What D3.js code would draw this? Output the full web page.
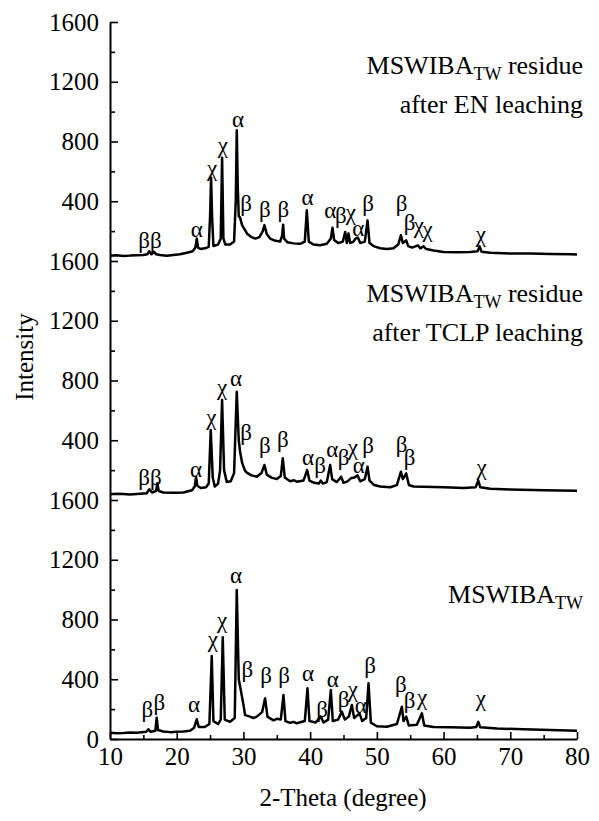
<!DOCTYPE html>
<html>
<head>
<meta charset="utf-8">
<script src="https://cdn.jsdelivr.net/npm/d3@7"></script>
<style>
  body { margin: 0; background: #fff; }
  svg text { font-family: "Liberation Serif", "Times New Roman", serif; fill: #000; }
</style>
</head>
<body>
<div id="chart"></div>
<script>
// XRD patterns, [2-theta, intensity]
var rawBA = [[10,42],[11,38],[12,40],[13,44],[14,42],[15.4,48],[15.75,65],[16.1,48],[16.8,55],[17.0,143],[17.2,60],[18,50],[19,46],[20,49],[21,50],[22,55],[22.6,75],[23.0,132],[23.3,80],[24.2,80],[24.9,100],[25.25,556],[25.5,120],[26.2,100],[26.6,130],[26.9,681],[27.2,130],[28.0,115],[28.7,140],[29.0,997],[29.3,400],[29.6,328],[30.0,230],[30.25,160],[31,150],[31.5,140],[32,150],[32.8,180],[33.25,272],[33.6,150],[34.5,125],[35.0,135],[35.6,130],[36.0,294],[36.3,120],[37,108],[37.5,115],[38,105],[39.2,120],[39.6,339],[39.9,120],[40.8,110],[41.6,150],[42.0,110],[42.7,130],[43.1,328],[43.4,120],[44.2,130],[44.75,183],[45.2,130],[45.8,150],[46.25,228],[46.6,140],[47.4,172],[47.8,120],[48.4,140],[48.75,373],[49.1,110],[50,85],[51.5,82],[53,100],[53.75,216],[54.0,120],[54.4,150],[54.8,90],[56,95],[56.75,172],[57.1,90],[58.5,80],[61,78],[64,75],[64.9,80],[65.2,115],[65.5,78],[68,70],[72,65],[76,60],[80,55]];

var tclpBA = [[10,38],[11,42],[12,40],[13,37],[14,40],[15.5,45],[15.9,72],[16.3,50],[16.9,60],[17.1,112],[17.3,60],[18,50],[19.5,48],[21,50],[22.3,65],[22.7,90],[22.9,156],[23.1,95],[23.6,80],[24.4,85],[24.8,110],[25.1,468],[25.4,150],[25.7,90],[26.2,110],[26.5,200],[26.8,669],[27.1,200],[27.5,120],[28.1,125],[28.6,180],[29.0,725],[29.3,400],[29.5,323],[29.8,250],[30.2,200],[30.5,183],[31.2,165],[32,156],[32.7,180],[33.15,234],[33.5,170],[34.2,150],[35,140],[35.6,160],[35.9,279],[36.2,150],[37,125],[37.6,132],[38,122],[39,130],[39.55,200],[39.9,130],[40.6,115],[41.3,110],[41.6,130],[41.9,110],[42.5,120],[43.0,234],[43.3,140],[44.0,120],[44.65,156],[45.0,115],[45.6,125],[46.1,145],[46.6,150],[47.1,165],[47.5,125],[48.2,140],[48.6,223],[48.9,130],[49.6,100],[50.5,90],[52,85],[53,100],[53.6,189],[53.9,140],[54.4,178],[54.8,100],[55.5,90],[57,88],[60,85],[63,80],[64.8,85],[65.2,130],[65.5,85],[67,75],[70,70],[75,65],[80,62]];

var enBA = [[10,35],[11,38],[12,33],[13,36],[14,38],[15,40],[15.6,45],[15.9,65],[16.2,45],[16.6,62],[16.9,45],[17.5,40],[18.5,35],[19.5,40],[20.5,45],[21.5,55],[22.4,65],[22.8,90],[23.0,150],[23.2,90],[23.6,80],[24.2,85],[24.8,95],[25.0,300],[25.15,558],[25.3,300],[25.5,100],[26.2,110],[26.6,150],[26.8,692],[27.0,150],[27.3,110],[28.0,110],[28.6,130],[28.85,400],[29.0,875],[29.15,500],[29.3,300],[29.5,290],[29.8,240],[30.2,210],[30.6,180],[31.2,160],[31.8,150],[32.4,160],[32.9,200],[33.15,240],[33.5,180],[34.0,150],[34.8,135],[35.5,130],[35.8,170],[35.95,243],[36.1,150],[36.6,125],[37.5,118],[38.5,115],[39.2,130],[39.5,340],[39.8,130],[40.5,110],[41.5,105],[42.5,115],[43.1,150],[43.35,223],[43.6,140],[44.2,120],[44.9,130],[45.25,194],[45.5,120],[45.75,185],[46.0,120],[46.5,130],[46.8,150],[47.15,157],[47.5,120],[48.2,130],[48.6,272],[48.9,120],[49.5,100],[50.5,85],[51.5,80],[52.5,85],[53.2,110],[53.6,172],[53.9,120],[54.4,138],[54.7,100],[55.3,90],[56.15,105],[56.5,85],[57.0,98],[57.4,80],[58.5,70],[60,60],[62,58],[64,60],[65.1,65],[65.4,98],[65.7,62],[67,55],[70,50],[73,50],[76,47],[79,45],[80,43]];

// phase labels, [2-theta, intensity of text baseline, letter]
var rawMarks = [[15.6,150,"β"],[17.4,195,"β"],[22.6,183,"α"],[25.4,617,"χ"],[26.8,740,"χ"],[28.9,1045,"α"],[30.6,417,"β"],[33.4,372,"β"],[36.1,372,"β"],[39.7,385,"α"],[41.8,150,"β"],[43.4,350,"α"],[45.0,217,"β"],[46.4,280,"χ"],[47.6,175,"α"],[49.0,439,"β"],[53.6,317,"β"],[54.9,205,"β"],[56.8,228,"χ"],[65.6,220,"χ"]];

var tclpMarks = [[16.0,100,"ββ"],[22.9,156,"α"],[25.2,502,"χ"],[26.8,703,"χ"],[28.9,760,"α"],[30.4,402,"β"],[33.2,312,"β"],[35.9,357,"β"],[39.7,234,"α"],[41.5,178,"β"],[43.3,290,"α"],[45.0,234,"β"],[46.4,301,"χ"],[47.3,178,"α"],[48.7,312,"β"],[53.7,323,"β"],[54.9,234,"β"],[65.7,167,"χ"]];

var enMarks = [[16.0,87,"ββ"],[23.0,160,"α"],[25.3,572,"χ"],[26.9,720,"χ"],[29.2,900,"α"],[30.4,338,"β"],[33.2,295,"β"],[36.0,295,"β"],[39.6,372,"α"],[43.0,285,"α"],[44.6,252,"β"],[46.1,272,"χ"],[47.2,170,"α"],[48.7,338,"β"],[53.7,338,"β"],[54.9,205,"β"],[56.3,185,"χ"],[57.6,160,"χ"],[65.6,127,"χ"]];

var yTickValues = d3.range(0, 4801, 400);
var yTickLabels = ["0","400","800","1200","1600","400","800","1200","1600","400","800","1200","1600"];
var xTickValues = [10, 20, 30, 40, 50, 60, 70, 80];

var panels = [
  {data: rawBA, marks: rawMarks, offset: 0},
  {data: tclpBA, marks: tclpMarks, offset: 1600},
  {data: enBA, marks: enMarks, offset: 3200}
];

var W = 599, H = 821;
var font = "'Liberation Serif', 'Times New Roman', serif";
var svg = d3.select("#chart").append("svg").attr("width", W).attr("height", H);

var x = d3.scaleLinear().domain([10, 80]).range([110, 577]);
var y = d3.scaleLinear().domain([0, 4800]).range([739, 22]);

// y axis (ticks inward)
svg.append("g").attr("transform", "translate(110,0)")
    .call(d3.axisLeft(y).tickValues(yTickValues).tickSize(-8).tickSizeOuter(0).tickPadding(11)
      .tickFormat(function (d, i) { return yTickLabels[i]; }));
svg.append("g").attr("transform", "translate(110,0)")
    .call(d3.axisLeft(y).tickValues(d3.range(200, 4800, 400)).tickSize(-5).tickSizeOuter(0).tickFormat(""))
    .select(".domain").remove();

// x axis
var xAxis = svg.append("g").attr("transform", "translate(0,739)")
    .call(d3.axisBottom(x).tickValues(xTickValues).tickSize(-7).tickSizeOuter(0).tickPadding(8).tickFormat(d3.format("d")));
svg.append("g").attr("transform", "translate(0,739)")
    .call(d3.axisBottom(x).tickValues(d3.range(15, 80, 10)).tickSize(-4).tickSizeOuter(0).tickFormat(""))
    .select(".domain").remove();

svg.selectAll("g").attr("font-family", null);
svg.selectAll(".domain").attr("stroke-width", 2);
svg.selectAll(".tick line").attr("stroke-width", 1.6);
svg.selectAll(".tick text").attr("font-size", 25).attr("fill", "#000").attr("font-family", font);
xAxis.selectAll(".tick text").attr("dy", "0.71em");

// patterns
var line = d3.line().x(function (d) { return x(d[0]); });
panels.forEach(function (p) {
  svg.append("path")
      .datum(p.data)
      .attr("fill", "none")
      .attr("stroke", "#000")
      .attr("stroke-width", 2.5)
      .attr("stroke-linejoin", "round")
      .attr("d", line.y(function (d) { return y(d[1] + p.offset); }));

  svg.selectAll(null).data(p.marks).enter().append("text")
      .attr("x", function (d) { return x(d[0]); })
      .attr("y", function (d) { return y(d[1] + p.offset); })
      .attr("text-anchor", "middle")
      .attr("font-family", font)
      .attr("font-size", 23)
      .text(function (d) { return d[2]; });
});

// sample names
function sampleName(xp, yp, lines) {
  var t = svg.append("text").attr("x", xp).attr("y", yp).attr("text-anchor", "end")
      .attr("font-family", font).attr("font-size", 26);
  t.append("tspan").text("MSWIBA");
  t.append("tspan").attr("font-size", 18).attr("dy", 6).text("TW");
  if (lines[0]) t.append("tspan").attr("dy", -6).text(" " + lines[0]);
  if (lines[1]) svg.append("text").attr("x", xp).attr("y", yp + 39).attr("text-anchor", "end")
      .attr("font-family", font).attr("font-size", 26).text(lines[1]);
}
sampleName(583, 74, ["residue", "after EN leaching"]);
sampleName(583, 302, ["residue", "after TCLP leaching"]);
sampleName(583, 603, []);

// axis titles
svg.append("text").attr("transform", "translate(33,357) rotate(-90)")
    .attr("text-anchor", "middle").attr("font-family", font).attr("font-size", 25).text("Intensity");
svg.append("text").attr("x", 343).attr("y", 806)
    .attr("text-anchor", "middle").attr("font-family", font).attr("font-size", 25).text("2-Theta (degree)");
</script>
</body>
</html>
